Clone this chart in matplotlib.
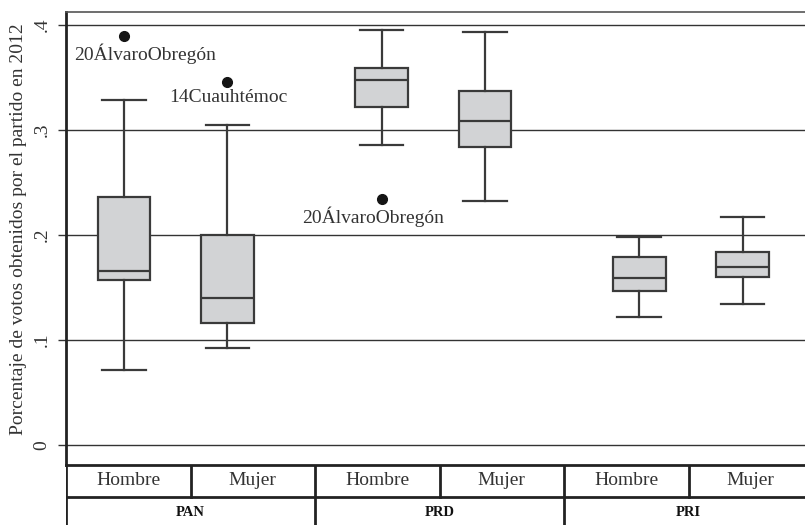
import matplotlib
matplotlib.use("Agg")
import matplotlib.pyplot as plt
from matplotlib.lines import Line2D

plt.rcParams['font.family'] = ['Liberation Serif', 'DejaVu Serif']

# data (order: PAN H, PAN M, PRD H, PRD M, PRI H, PRI M)
partidos = ['PAN', 'PRD', 'PRI']
sexos = ['Hombre', 'Mujer']
whishi = [0.329, 0.305, 0.395, 0.393, 0.198, 0.217]
q3 = [0.236, 0.200, 0.359, 0.337, 0.179, 0.184]
med = [0.166, 0.140, 0.348, 0.309, 0.159, 0.170]
q1 = [0.157, 0.116, 0.322, 0.284, 0.147, 0.160]
whislo = [0.071, 0.092, 0.286, 0.232, 0.122, 0.134]
outlier_box = [0, 1, 2]
outlier_val = [0.3895, 0.3457, 0.2343]
outlier_lab = ['20ÁlvaroObregón', '14Cuauhtémoc', '20ÁlvaroObregón']
lab_dx = [21, 1, -8]  # label shift in pixels

yticks = [0, 0.1, 0.2, 0.3, 0.4]
ytick_labels = ['0', '.1', '.2', '.3', '.4']

group_gap = 2.49
positions = [g * group_gap + s for g in range(len(partidos)) for s in range(len(sexos))]

edge = '#3a3a3a'
fill = '#d2d3d5'
txt = '#333333'

fig = plt.figure(figsize=(8.05, 5.25), dpi=100)
W, H = 805, 525
ax = fig.add_axes([66 / W, (H - 465) / H, 747 / W, 453 / H])

stats = []
for i in range(len(positions)):
    fl = [v for b, v in zip(outlier_box, outlier_val) if b == i]
    stats.append(dict(whislo=whislo[i], q1=q1[i], med=med[i], q3=q3[i],
                      whishi=whishi[i], fliers=fl))

ax.bxp(stats, positions=positions, widths=0.51, patch_artist=True,
       showfliers=True, capwidths=0.42,
       boxprops=dict(facecolor=fill, edgecolor=edge, linewidth=1.6),
       medianprops=dict(color=edge, linewidth=1.6),
       whiskerprops=dict(color=edge, linewidth=1.6),
       capprops=dict(color=edge, linewidth=1.6),
       flierprops=dict(marker='o', markerfacecolor='#151515',
                       markeredgecolor='#151515', markersize=7),
       zorder=3)

for b, v, lab, dx in zip(outlier_box, outlier_val, outlier_lab, lab_dx):
    ax.annotate(lab, (positions[b], v), xytext=(dx, -7), textcoords='offset pixels',
                ha='center', va='top', fontsize=14, color=txt, zorder=4)

for t in yticks:
    ax.axhline(t, color='#333333', linewidth=1.0, zorder=1)

ax.set_xlim(-0.56, 6.66)
ax.set_ylim(-0.019, 0.4124)
ax.set_xticks([])
ax.set_yticks(yticks)
ax.set_yticklabels(ytick_labels, rotation=90, va='center', fontsize=14, color=txt)
ax.tick_params(axis='y', length=6, width=1.0, color='#333333', pad=5)
ax.set_ylabel('Porcentaje de votos obtenidos por el partido en 2012', fontsize=14,
              color=txt)
ax.yaxis.set_label_coords(-0.052, 0.521)

ax.spines['left'].set_linewidth(2.0)
ax.spines['left'].set_color('#222222')
ax.spines['top'].set_linewidth(1.2)
ax.spines['top'].set_color('#555555')
ax.spines['right'].set_visible(False)
ax.spines['bottom'].set_linewidth(2.0)
ax.spines['bottom'].set_color('#222222')

# category table below the plot
tab = fig.add_axes([66 / W, (H - 530) / H, 747 / W, 65 / H])
tab.set_xlim(0, 6)
tab.set_ylim(0, 2)
tab.axis('off')
lw = 2.0
tab.add_line(Line2D([0, 0], [0, 2], color='#222222', linewidth=lw))
tab.add_line(Line2D([0, 6], [1.03, 1.03], color='#222222', linewidth=lw))
for k in range(1, 6):
    bottom = 0 if k % 2 == 0 else 1.03
    tab.add_line(Line2D([k, k], [bottom, 2], color='#222222', linewidth=lw))
for g, p in enumerate(partidos):
    for s, sx in enumerate(sexos):
        tab.text(g * 2 + s + 0.5, 1.52, sx, ha='center', va='center',
                 fontsize=14, color=txt)
    tab.text(g * 2 + 1, 0.55, p, ha='center', va='center', fontsize=10.5,
             color='#111111', fontweight='semibold')

fig.savefig('out.png', dpi=100)
